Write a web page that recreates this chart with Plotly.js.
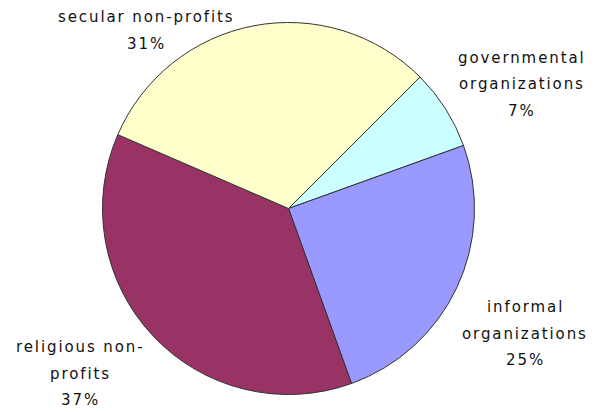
<!DOCTYPE html>
<html>
<head>
<meta charset="utf-8">
<script src="https://cdn.plot.ly/plotly-3.0.1.min.js"></script>
<style>
  html, body { margin: 0; padding: 0; background: #fff; }
  #chart { width: 596px; height: 412px; }
  .annotation-text { letter-spacing: 1.9px; }
</style>
</head>
<body>
<div id="chart"></div>
<script>
// Data
const categories = ["governmental organizations", "informal organizations", "religious non-profits", "secular non-profits"];
const shares = [7, 25, 37, 31];
const labelLines = [
  ["governmental", "organizations"],
  ["informal", "organizations"],
  ["religious non-", "profits"],
  ["secular non-profits"]
];
const colors = ["#CCFFFF", "#9999FF", "#993366", "#FFFFCC"];

// Layout helpers (pixel positions of label blocks: center x, first line y)
const W = 596, H = 412;
const labelPos = [[522, 58], [525, 307], [80, 347], [146, 17]];
const lineGap = 26.5;

const annotations = [];
categories.forEach((c, i) => {
  const lines = labelLines[i].concat([shares[i] + "%"]);
  lines.forEach((t, j) => {
    annotations.push({
      xref: "paper", yref: "paper",
      x: labelPos[i][0] / W,
      y: 1 - (labelPos[i][1] + j * lineGap) / H,
      xanchor: "center", yanchor: "middle",
      text: t, showarrow: false,
      font: { family: "DejaVu Sans, Verdana, sans-serif", size: 15, color: "#111" }
    });
  });
});

const cx = 288.5, cy = 208.5, r = 186;
const trace = {
  type: "pie",
  labels: categories,
  values: shares,
  sort: false,
  direction: "clockwise",
  rotation: 45,
  textinfo: "none",
  hoverinfo: "none",
  marker: { colors: colors, line: { color: "#333333", width: 1 } },
  domain: { x: [(cx - r) / W, (cx + r) / W], y: [1 - (cy + r) / H, 1 - (cy - r) / H] },
  showlegend: false
};

Plotly.newPlot("chart", [trace], {
  width: W, height: H,
  margin: { l: 0, r: 0, t: 0, b: 0 },
  paper_bgcolor: "#ffffff",
  showlegend: false,
  annotations: annotations
}, { staticPlot: true });
</script>
</body>
</html>
